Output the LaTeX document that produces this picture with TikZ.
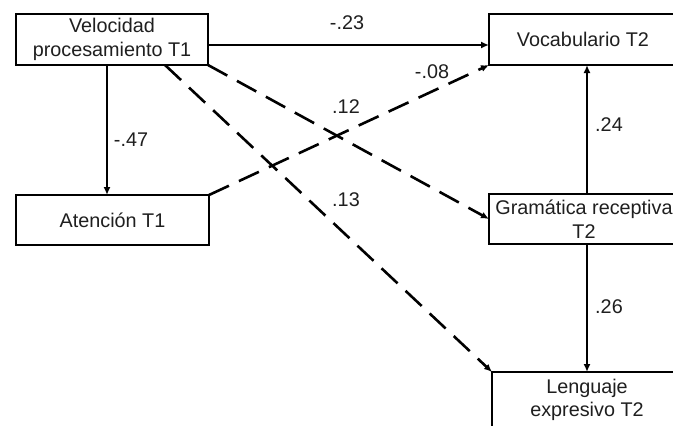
\documentclass[tikz,border=0pt]{standalone}
\usepackage{fontspec}
\setmainfont{Liberation Sans}
\usetikzlibrary{arrows.meta}
\begin{document}
\begin{tikzpicture}[x=1pt,y=-1pt,
  font=\fontsize{19.8}{23.5}\selectfont,
  box/.style={draw=black, line width=2.6pt, inner sep=0pt, outer sep=0pt,
              align=center, text=black!88},
  coef/.style={inner sep=0pt, text=black!88},
  arr/.style={line width=2.2pt, -{Latex[length=8pt,width=7pt]}},
  darr/.style={arr, line width=2.6pt, dash pattern=on 22pt off 11pt}]
\useasboundingbox (0,0) rectangle (673,426);
\clip (0,0) rectangle (673,426);
\fill[white] (0,0) rectangle (673,426);

% variables
\node[box, minimum width=192pt, minimum height=51pt] (vel) at (112,39.5)
  {Velocidad\\procesamiento T1};
\node[box, minimum width=193pt, minimum height=50pt] (att) at (112.5,220)
  {Atenci\'on T1};
\node[box, minimum width=188pt, minimum height=51pt] (voc) at (583,39.5)
  {Vocabulario T2};
\node[box, minimum width=190pt, minimum height=50pt] (gram) at (584,219)
  {Gram\'atica receptiva\\T2};
\node[box, minimum width=190pt, minimum height=56pt] (len) at (587,400)
  {Lenguaje\\expresivo T2};

% paths
\draw[arr] ([yshift=-5.5pt]vel.east) -- ([yshift=-5.5pt]voc.west);
\draw[arr] ([xshift=-5pt]vel.south) -- ([xshift=-5.5pt]att.north);
\draw[darr] (att.north east) -- (voc.south west);
\draw[darr] (vel.south east) -- (gram.west);
\draw[darr] ([xshift=53pt]vel.south) -- (len.north west);
\draw[arr] ([xshift=3pt]gram.north) -- ([xshift=3pt]gram.north |- voc.south);
\draw[arr] ([xshift=3pt]gram.south) -- ([xshift=3pt]gram.south |- len.north);

% path coefficients
\node[coef] (c1) at (347,23)  {-.23};
\node[coef] (c2) at (432,72)  {-.08};
\node[coef] (c3) at (346,107) {.12};
\node[coef] (c4) at (346,200) {.13};
\node[coef] (c5) at (131,140) {-.47};
\node[coef] (c6) at (609,125) {.24};
\node[coef] (c7) at (609,307) {.26};
\end{tikzpicture}
\end{document}
